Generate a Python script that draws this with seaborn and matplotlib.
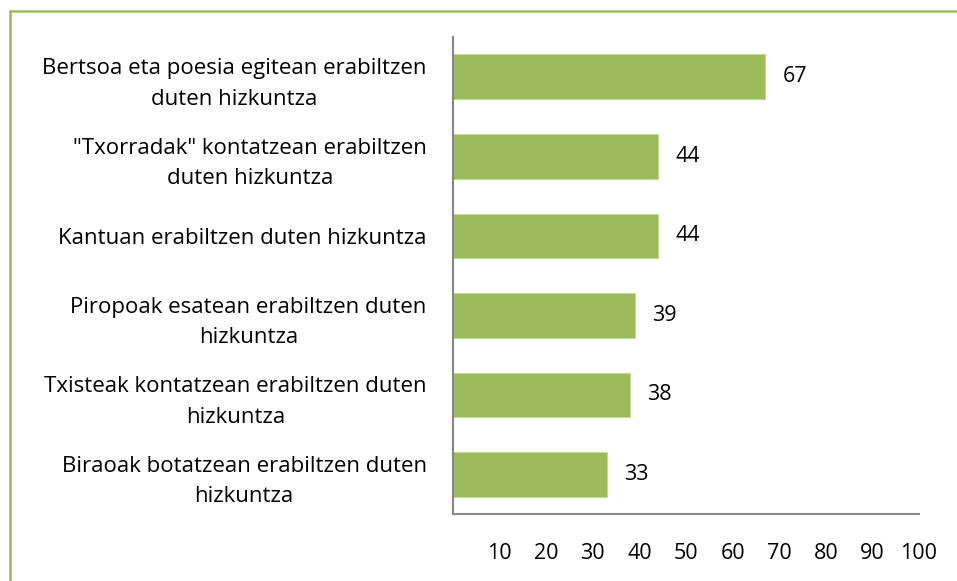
import pandas as pd
import matplotlib.pyplot as plt
import seaborn as sns
from matplotlib.patches import Rectangle

categories = [
    'Bertsoa eta poesia egitean erabiltzen\nduten hizkuntza',
    '"Txorradak" kontatzean erabiltzen\nduten hizkuntza',
    'Kantuan erabiltzen duten hizkuntza',
    'Piropoak esatean erabiltzen duten\nhizkuntza',
    'Txisteak kontatzean erabiltzen duten\nhizkuntza',
    'Biraoak botatzean erabiltzen duten\nhizkuntza',
]
values = [67, 44, 44, 39, 38, 33]
xticks = [10, 20, 30, 40, 50, 60, 70, 80, 90, 100]

df = pd.DataFrame({'kat': categories, 'val': values})

sns.set_style('white')
plt.rcParams['font.family'] = ['Open Sans', 'DejaVu Sans']
plt.rcParams['text.color'] = 'black'
plt.rcParams['xtick.color'] = 'black'
plt.rcParams['ytick.color'] = 'black'

fig = plt.figure(figsize=(9.57, 5.81), dpi=100)
ax = fig.add_axes([0.4734, 0.1153, 0.4869, 0.8210])

sns.barplot(data=df, x='val', y='kat', color='#9BBB59', width=0.56,
            edgecolor='#C3D69B', linewidth=0.8, saturation=1, ax=ax)

ax.set_xlim(0, 100)
ax.set_xticks(xticks)
ax.set_xticklabels([str(t) for t in xticks], fontsize=15.5)
ax.tick_params(axis='x', length=0, pad=21)
ax.tick_params(axis='y', length=0, pad=19)
for lab in ax.get_yticklabels():
    lab.set_fontsize(16)
    lab.set_multialignment('center')
    lab.set_linespacing(1.6)
ax.set_xlabel('')
ax.set_ylabel('')

for s in ['top', 'right']:
    ax.spines[s].set_visible(False)
for s in ['left', 'bottom']:
    ax.spines[s].set_color('#868686')
    ax.spines[s].set_linewidth(1.5)

for i, v in enumerate(values):
    ax.text(v + 3.7, i, str(v), va='center', ha='left', fontsize=15.5)

# green chart-area border
fig.patches.append(Rectangle((10 / 957, -0.05), 1.1, 1 - 11 / 581 + 0.05,
                             transform=fig.transFigure, fill=False,
                             edgecolor='#9BBB59', linewidth=1.8))

fig.savefig('out.png', dpi=100)
